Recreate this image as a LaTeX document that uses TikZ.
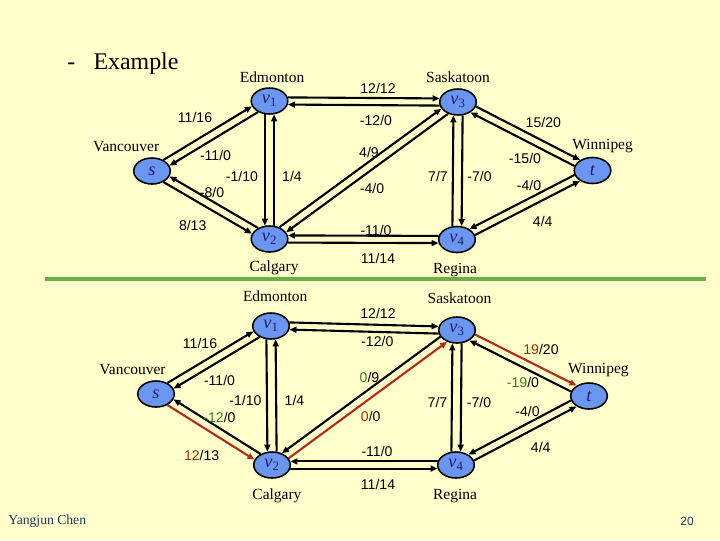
\documentclass[tikz,border=0pt]{standalone}
\usepackage{fontspec}
\setmainfont{Liberation Serif}
\newfontfamily\lblfont{Liberation Sans}
\usetikzlibrary{positioning, arrows.meta, shapes.geometric}
\definecolor{bgyellow}{HTML}{FFFFCC}
\definecolor{nodeblue}{HTML}{6A96F0}
\definecolor{nodetext}{HTML}{1E1E78}
\definecolor{pathred}{HTML}{B22A1C}
\definecolor{flowred}{HTML}{993300}
\definecolor{flowgreen}{HTML}{3F7F1F}
\definecolor{rulegreen}{HTML}{70AD47}
\definecolor{footnavy}{HTML}{1F3864}

\begin{document}
\begin{tikzpicture}[
    x=0.025cm, y=-0.025cm,
    vtx/.style={ellipse, draw, fill=nodeblue, line width=1.1pt, minimum width=26pt, minimum height=18.5pt, inner sep=0pt, text=nodetext, font=\fontsize{13}{15}\selectfont\itshape},
    city/.style={inner sep=0pt, font=\fontsize{11}{13}\selectfont},
    lbl/.style={inner sep=0pt, font=\lblfont\fontsize{10}{12}\selectfont},
    arr/.style={-{Triangle[length=5pt, width=4.2pt]}, line width=1.5pt},
    hot/.style={arr, draw=pathred},
  ]
    \useasboundingbox (0,0) rectangle (720,540);
    \fill[bgyellow] (0,0) rectangle (720,540);

    \node[anchor=base west, inner sep=0pt, font=\fontsize{17}{20}\selectfont] (title) at (67,69.5) {-\hspace{13pt}Example};

    % first network
    \node[vtx] (s) at (152,171) {s};
    \node[vtx] (v1) at (269.5,101) {v\textsubscript{\upshape 1}};
    \node[vtx] (v2) at (269.5,239) {v\textsubscript{\upshape 2}};
    \node[vtx] (v3) at (458,102) {v\textsubscript{\upshape 3}};
    \node[vtx] (v4) at (457,239.5) {v\textsubscript{\upshape 4}};
    \node[vtx] (t) at (592.5,170.5) {t};

    \node[city, above=2.8pt of v1, xshift=1.8pt] (edm) {Edmonton};
    \node[city, above=3.8pt of s, xshift=-18.4pt] (van) {Vancouver};
    \node[city, below=5.3pt of v2, xshift=3.2pt] (cal) {Calgary};
    \node[city, above=3.5pt of v3] (sas) {Saskatoon};
    \node[city, below=6.9pt of v4, xshift=-1.4pt] (reg) {Regina};
    \node[city, above=2.6pt of t, xshift=7.2pt] (win) {Winnipeg};

    \draw[arr] (s.44) -- (v1.197);
    \draw[arr] (v1.224) -- (s.17);
    \draw[arr] (v2.136) -- (s.343);
    \draw[arr] (s.316) -- (v2.163);
    \draw[arr] (v1.251) -- (v2.109);
    \draw[arr] (v2.71) -- (v1.289);
    \draw[arr] (v1.11) -- (v3.169);
    \draw[arr] (v3.191) -- (v1.349);
    \draw[arr] (v2.50) -- (v3.202);
    \draw[arr] (v3.230) -- (v2.22);
    \draw[arr] (v4.169) -- (v2.11);
    \draw[arr] (v2.349) -- (v4.191);
    \draw[arr] (v4.109) -- (v3.251);
    \draw[arr] (v3.289) -- (v4.71);
    \draw[arr] (v3.346) -- (t.140);
    \draw[arr] (t.166) -- (v3.320);
    \draw[arr] (t.194) -- (v4.40);
    \draw[arr] (v4.14) -- (t.220);

    \node[lbl] (a1) at (195,117) {11/16};
    \node[lbl] (a2) at (215.5,155.7) {-11/0};
    \node[lbl] (a3) at (242,176) {-1/10};
    \node[lbl] (a4) at (292,176) {1/4};
    \node[lbl] (a5) at (212,192.7) {-8/0};
    \node[lbl] (a6) at (192.7,225) {8/13};
    \node[lbl] (a7) at (378,88.3) {12/12};
    \node[lbl] (a8) at (376,120) {-12/0};
    \node[lbl] (a9) at (369,152.3) {4/9};
    \node[lbl] (a10) at (372,188.7) {-4/0};
    \node[lbl] (a11) at (438,176.7) {7/7};
    \node[lbl] (a12) at (479.5,176.7) {-7/0};
    \node[lbl] (a13) at (376,230) {-11/0};
    \node[lbl] (a14) at (378,258) {11/14};
    \node[lbl] (a15) at (543.3,122) {15/20};
    \node[lbl] (a16) at (525,158.7) {-15/0};
    \node[lbl] (a17) at (529,185.3) {-4/0};
    \node[lbl] (a18) at (542.7,221.3) {4/4};

    \draw[rulegreen, line width=2.2pt] (45,279) -- (706,279);

    % second network, after augmenting
    \node[vtx] (bs) at (156,394) {s};
    \node[vtx] (bv1) at (271,326) {v\textsubscript{\upshape 1}};
    \node[vtx] (bv2) at (272,465) {v\textsubscript{\upshape 2}};
    \node[vtx] (bv3) at (457,330) {v\textsubscript{\upshape 3}};
    \node[vtx] (bv4) at (456,465) {v\textsubscript{\upshape 4}};
    \node[vtx] (bt) at (589,396) {t};

    \node[city, above=7pt of bv1, xshift=3pt] (bedm) {Edmonton};
    \node[city, above=3.5pt of bs, xshift=-16.7pt] (bvan) {Vancouver};
    \node[city, below=7pt of bv2, xshift=3.5pt] (bcal) {Calgary};
    \node[city, above=8.5pt of bv3, xshift=1.8pt] (bsas) {Saskatoon};
    \node[city, below=7pt of bv4, xshift=-0.7pt] (breg) {Regina};
    \node[city, above=3.5pt of bt, xshift=6.7pt] (bwin) {Winnipeg};

    \draw[arr] (bs.44) -- (bv1.197);
    \draw[arr] (bv1.224) -- (bs.17);
    \draw[arr] (bv2.136) -- (bs.343);
    \draw[hot] (bs.316) -- (bv2.163);
    \draw[arr] (bv1.251) -- (bv2.109);
    \draw[arr] (bv2.71) -- (bv1.289);
    \draw[arr] (bv1.11) -- (bv3.169);
    \draw[arr] (bv3.191) -- (bv1.349);
    \draw[arr] (bv3.202) -- (bv2.50);
    \draw[hot] (bv2.22) -- (bv3.230);
    \draw[arr] (bv4.169) -- (bv2.11);
    \draw[arr] (bv2.349) -- (bv4.191);
    \draw[arr] (bv4.109) -- (bv3.251);
    \draw[arr] (bv3.289) -- (bv4.71);
    \draw[hot] (bv3.346) -- (bt.140);
    \draw[arr] (bt.166) -- (bv3.320);
    \draw[arr] (bt.194) -- (bv4.40);
    \draw[arr] (bv4.14) -- (bt.220);

    \node[lbl] (b1) at (200,343.3) {11/16};
    \node[lbl] (b2) at (219.5,380.7) {-11/0};
    \node[lbl] (b3) at (245.5,400) {-1/10};
    \node[lbl] (b4) at (294.5,400) {1/4};
    \node[lbl] (b5) at (219.5,417.7) {\textcolor{flowgreen}{-12}/0};
    \node[lbl] (b6) at (201.7,455.3) {\textcolor{flowred}{12}/13};
    \node[lbl] (b7) at (378,313.3) {12/12};
    \node[lbl] (b8) at (377.3,341.7) {-12/0};
    \node[lbl] (b9) at (369.5,377) {\textcolor{flowgreen}{0}/9};
    \node[lbl] (b10) at (370.7,416.7) {\textcolor{flowred}{0}/0};
    \node[lbl] (b11) at (437.5,402) {7/7};
    \node[lbl] (b12) at (479,402) {-7/0};
    \node[lbl] (b13) at (377,451.7) {-11/0};
    \node[lbl] (b14) at (378,484) {11/14};
    \node[lbl] (b15) at (541,349.5) {\textcolor{flowred}{19}/20};
    \node[lbl] (b16) at (523,382) {\textcolor{flowgreen}{-19}/0};
    \node[lbl] (b17) at (527.5,411.3) {-4/0};
    \node[lbl] (b18) at (540.7,447) {4/4};

    \node[anchor=base west, inner sep=0pt, text=footnavy, font=\fontsize{9.7}{12}\selectfont] (author) at (8,524) {Yangjun Chen};
    \node[anchor=base east, inner sep=0pt, text=footnavy, font=\lblfont\fontsize{8.5}{10}\selectfont] (page) at (694,525) {20};
\end{tikzpicture}
\end{document}
